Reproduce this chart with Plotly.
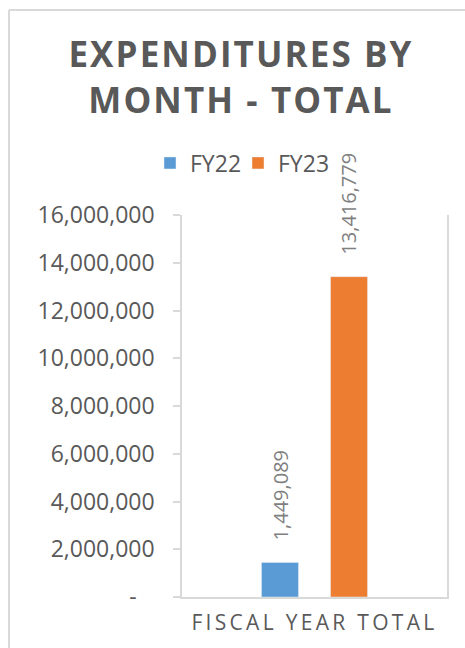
import plotly.graph_objects as go

# ---- data ----
categories = ["FISCAL YEAR TOTAL"]
series_names = ["FY22", "FY23"]
fy22_values = [1449089]
fy23_values = [13416779]
y_tick_values = [0, 2000000, 4000000, 6000000, 8000000, 10000000, 12000000, 14000000, 16000000]
y_tick_labels = ["-\u00a0\u00a0\u00a0", "2,000,000", "4,000,000", "6,000,000", "8,000,000",
                 "10,000,000", "12,000,000", "14,000,000", "16,000,000"]
title_text = "EXPENDITURES BY<br>MONTH - TOTAL"

W, H = 465, 648
ML, MR, MT, MB = 182, 18, 215, 51
FONT = "Open Sans"
GRAY = "#595959"
LINE = "#d9d9d9"

fig = go.Figure()
fig.add_trace(go.Bar(name=series_names[0], x=categories, y=fy22_values, marker_color="#5b9bd5",
                     legend="legend"))
fig.add_trace(go.Bar(name=series_names[1], x=categories, y=fy23_values, marker_color="#ed7d31",
                     legend="legend2"))

# data labels (rotated) above bars
for vals, shift in ((fy22_values, -34.5), (fy23_values, 34.5)):
    for c, v in zip(categories, vals):
        fig.add_annotation(x=c, y=v, xref="x", yref="y", text=f"{v:,}", showarrow=False,
                           textangle=-90, xanchor="center", yanchor="bottom",
                           xshift=shift, yshift=20,
                           font=dict(family=FONT, size=20, color="#7f7f7f"))

pw = W - ML - MR
ph = H - MT - MB
def px_x(p):
    return (p - ML) / pw
def px_y(p):
    return (H - MB - p) / ph

# outer chart border (top & left visible)
fig.add_shape(type="line", xref="paper", yref="paper", x0=px_x(9), y0=px_y(10), x1=px_x(470), y1=px_y(10),
              line=dict(color=LINE, width=2))
fig.add_shape(type="line", xref="paper", yref="paper", x0=px_x(9), y0=px_y(10), x1=px_x(9), y1=px_y(652),
              line=dict(color=LINE, width=2))

leg_common = dict(orientation="h", xref="container", xanchor="left", yref="container",
                  yanchor="middle", y=1 - 163 / H, itemwidth=30, bgcolor="rgba(0,0,0,0)",
                  font=dict(family=FONT, size=23, color=GRAY))

fig.update_layout(
    width=W, height=H,
    margin=dict(l=ML, r=MR, t=MT, b=MB, autoexpand=False),
    paper_bgcolor="white", plot_bgcolor="white",
    barmode="group", bargap=0.479, bargroupgap=0.464,
    title=dict(text=title_text, x=241 / W, xref="container", xanchor="center",
               y=1 - 67 / H, yref="container", yanchor="top",
               font=dict(family=FONT, size=35, color=GRAY, weight="bold")),
    legend=dict(x=150 / W, **leg_common),
    legend2=dict(x=238 / W, **leg_common),
    showlegend=True,
)
fig.update_xaxes(showline=True, linecolor=LINE, linewidth=1.5, showgrid=False, ticks="",
                 tickfont=dict(family=FONT, size=21, color=GRAY), ticklabelstandoff=6)
fig.update_yaxes(range=[0, 16000000], tickvals=y_tick_values, ticktext=y_tick_labels,
                 showline=True, mirror=True, linecolor=LINE, linewidth=1.5, showgrid=False,
                 ticks="outside", ticklen=7, tickcolor=LINE, tickwidth=1.5, zeroline=False,
                 ticklabelstandoff=14,
                 tickfont=dict(family=FONT, size=23, color=GRAY))

# page without default body margin; letter spacing like the original
post = """
document.body.style.margin = '0';
var gd = document.getElementById('{plot_id}');
gd.querySelectorAll('.gtitle').forEach(function(t){ t.style.letterSpacing = '2.1px'; });
gd.querySelectorAll('.xtick text').forEach(function(t){ t.style.letterSpacing = '3.3px'; });
"""
fig.write_html("out.html", post_script=post, config={"displayModeBar": False})
